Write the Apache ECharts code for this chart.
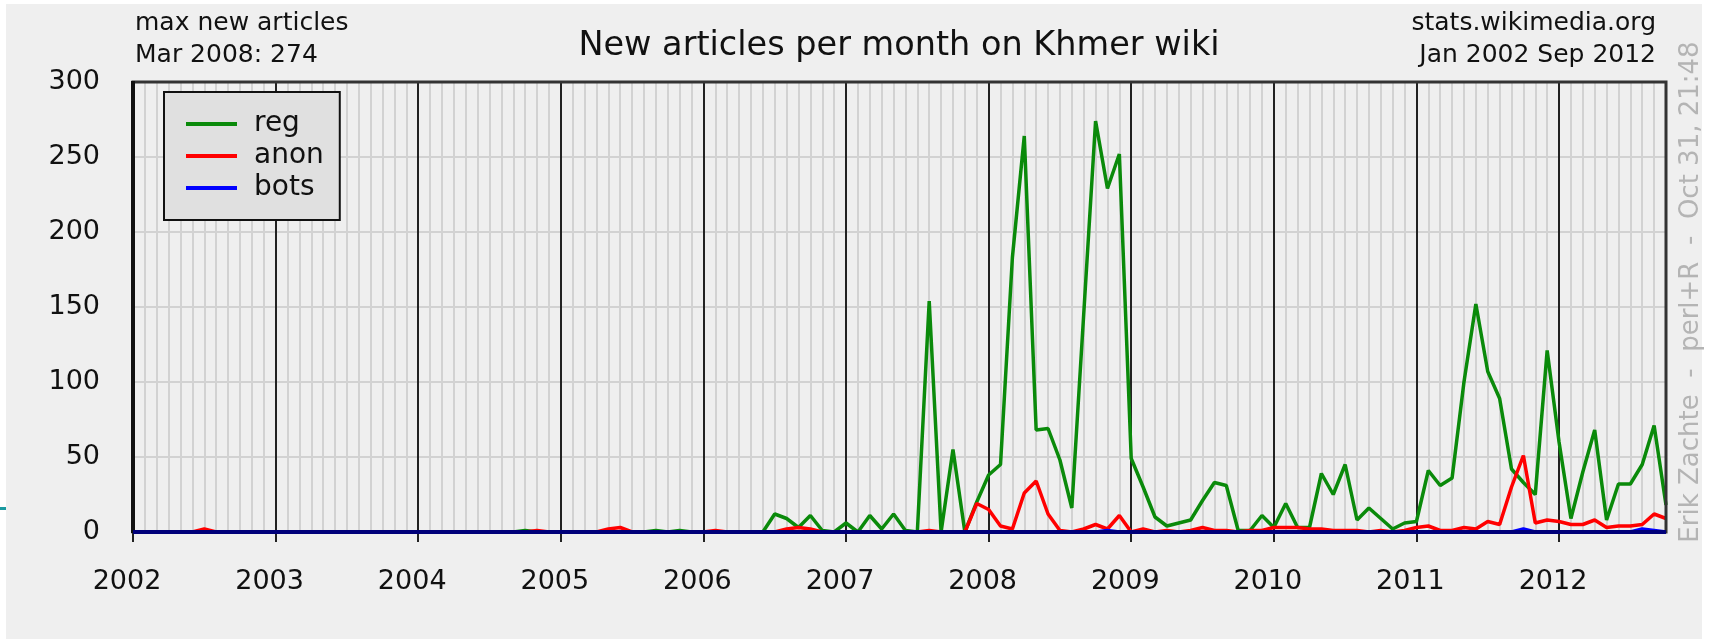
<!DOCTYPE html>
<html>
<head>
<meta charset="utf-8">
<script src="https://cdn.jsdelivr.net/npm/echarts@6/dist/echarts.min.js"></script>
<style>
html,body{margin:0;padding:0;background:#ffffff;}
#bg{position:absolute;left:6px;top:4px;width:1696px;height:635px;background:#efefef;}
#chart{position:absolute;left:0;top:0;width:1709px;height:644px;}
</style>
</head>
<body>
<div id="bg"></div>
<div id="chart"></div>
<script>
// Monthly values, Jan 2002 (index 0) ... (index 129)
const reg = [
  0,0,0,0,0,0,0,0,0,0,0,0,
  0,0,0,0,0,0,0,0,0,0,0,0,
  0,0,0,0,0,0,0,0,0,1,0,0,
  0,0,0,0,0,0,0,0,1,0,1,0,
  0,0,0,0,0,0,12,9,3,11,1,0,
  6,0,11,2,12,1,0,154,0,55,0,20,
  38,45,183,264,68,69,48,16,145,274,229,252,
  49,30,10,4,6,8,21,33,31,1,1,11,
  3,19,3,3,39,25,45,8,16,9,2,6,
  7,41,31,36,100,152,107,89,42,33,25,121,
  60,9,40,68,8,32,32,45,71,18
];
const anon = [
  0,0,0,0,0,0,2,0,0,0,0,0,
  0,0,0,0,0,0,0,0,0,0,0,0,
  0,0,0,0,0,0,0,0,0,0,1,0,
  0,0,0,0,2,3,0,0,0,0,0,0,
  0,1,0,0,0,0,0,2,3,2,0,0,
  0,0,0,0,0,0,0,1,0,0,0,19,
  15,4,2,26,34,12,1,0,2,5,2,11,
  0,2,0,1,0,1,3,1,1,0,1,1,
  3,3,3,2,2,1,1,1,0,1,0,1,
  3,4,1,1,3,2,7,5,30,51,6,8,
  7,5,5,8,3,4,4,5,12,9
];
const bots = [
  0,0,0,0,0,0,0,0,0,0,0,0,
  0,0,0,0,0,0,0,0,0,0,0,0,
  0,0,0,0,0,0,0,0,0,0,0,0,
  0,0,0,0,0,0,0,0,0,0,0,0,
  0,0,0,0,0,0,0,0,0,0,0,0,
  0,0,0,0,0,0,0,0,0,0,0,0,
  0,0,0,0,0,0,0,0,0,0,1,0,
  0,0,0,0,0,0,0,0,0,0,0,0,
  0,0,0,0,0,0,0,0,0,0,0,0,
  0,0,0,0,0,0,0,0,0,2,0,0,
  0,0,0,0,0,0,0,2,1,0
];
const yearLabels = ['2002','2003','2004','2005','2006','2007','2008','2009','2010','2011','2012'];
const yTicks = [0,50,100,150,200,250,300];

const FONT = 'DejaVu Sans';
const toPts = arr => arr.map((v, i) => [i, v]);
const yearTickValues = yearLabels.map((_, i) => i * 12);

const G = {left: 133, top: 82, right: 43, bottom: 112};

const chart = echarts.init(document.getElementById('chart'), null, {renderer: 'canvas'});
chart.setOption({
  backgroundColor: 'transparent',
  animation: false,
  grid: {left: G.left, right: G.right, top: G.top, bottom: G.bottom, show: false},
  legend: {
    left: 164, top: 92, orient: 'vertical',
    backgroundColor: '#e0e0e0', borderColor: '#111', borderWidth: 2, borderRadius: 0,
    padding: [16, 16, 16, 22], itemGap: 0,
    icon: 'rect', itemWidth: 51, itemHeight: 4,
    textStyle: {fontFamily: FONT, fontSize: 28, color: '#111', lineHeight: 32, padding: [0, 0, 0, 12]},
    data: ['reg', 'anon', 'bots']
  },
  xAxis: [
    {type: 'value', position: 'bottom', min: 0, max: 129, interval: 1, gridIndex: 0,
     axisLine: {show: false}, axisTick: {show: false}, axisLabel: {show: false},
     splitLine: {show: true, lineStyle: {color: '#d2d2d2', width: 2}}},
    {type: 'value', position: 'bottom', min: 0, max: 129, interval: 12, gridIndex: 0,
     axisLine: {show: false},
     axisTick: {show: true, length: 10, customValues: yearTickValues, lineStyle: {color: '#222', width: 2}},
     axisLabel: {show: true, customValues: yearTickValues, margin: 36,
       fontFamily: FONT, fontSize: 27, color: '#111', padding: [0, 12, 0, 0],
       formatter: v => yearLabels[Math.round(v / 12)] || ''},
     splitLine: {show: true, lineStyle: {color: '#222', width: 2}}}
  ],
  yAxis: {
    type: 'value', min: 0, max: 300, interval: 50,
    axisLine: {show: false}, axisTick: {show: false},
    axisLabel: {margin: 33, fontFamily: FONT, fontSize: 27, color: '#111',
      formatter: v => yTicks.includes(v) ? String(v) : ''},
    splitLine: {show: true, lineStyle: {color: '#d2d2d2', width: 2}}
  },
  series: [
    {name: 'reg', type: 'line', xAxisIndex: 1, data: toPts(reg), showSymbol: false,
     color: '#0a8a0a', lineStyle: {width: 3.5, color: '#0a8a0a'}},
    {name: 'anon', type: 'line', xAxisIndex: 1, data: toPts(anon), showSymbol: false,
     color: '#ff0000', lineStyle: {width: 3.5, color: '#ff0000'}},
    {name: 'bots', type: 'line', xAxisIndex: 1, data: toPts(bots), showSymbol: false,
     color: '#0000ff', lineStyle: {width: 3.5, color: '#0000ff'},
     markLine: {silent: true, symbol: 'none', label: {show: false},
       lineStyle: {color: '#00007a', width: 4, type: 'solid'}, data: [{yAxis: 0}]}}
  ],
  graphic: [
    {type: 'rect', z: 50, silent: true,
     shape: {x: G.left, y: G.top, width: 1709 - G.left - G.right, height: 644 - G.top - G.bottom},
     style: {fill: 'none', stroke: '#333', lineWidth: 3}},
    {type: 'line', z: 51, silent: true,
     shape: {x1: G.left, y1: G.top - 1, x2: G.left, y2: 644 - G.bottom + 1},
     style: {stroke: '#111', lineWidth: 4}},
    {type: 'line', z: 51, silent: true,
     shape: {x1: G.left, y1: 644 - G.bottom, x2: 1709 - G.right, y2: 644 - G.bottom},
     style: {stroke: '#00007a', lineWidth: 4}},
    {type: 'text', x: 135, y: 23, style: {text: 'max new articles', font: '25px "DejaVu Sans"', fill: '#111', verticalAlign: 'middle'}},
    {type: 'text', x: 135, y: 55, style: {text: 'Mar 2008: 274', font: '25px "DejaVu Sans"', fill: '#111', verticalAlign: 'middle'}},
    {type: 'text', x: 1656, y: 23, style: {text: 'stats.wikimedia.org', font: '25px "DejaVu Sans"', fill: '#111', align: 'right', verticalAlign: 'middle'}},
    {type: 'text', x: 1656, y: 55, style: {text: 'Jan 2002 Sep 2012', font: '25px "DejaVu Sans"', fill: '#111', align: 'right', verticalAlign: 'middle'}},
    {type: 'text', x: 899, y: 46, style: {text: 'New articles per month on Khmer wiki', font: '33.5px "DejaVu Sans"', fill: '#111', align: 'center', verticalAlign: 'middle'}},
    {type: 'text', x: 1691, y: 292, rotation: Math.PI / 2,
     style: {text: 'Erik Zachte  -  perl+R  -  Oct 31, 21:48', font: '26px "DejaVu Sans"', fill: '#b4b4b4', align: 'center', verticalAlign: 'middle'}},
    {type: 'rect', shape: {x: 0, y: 507, width: 6, height: 3}, style: {fill: '#1a9aa0'}}
  ]
});
</script>
</body>
</html>
